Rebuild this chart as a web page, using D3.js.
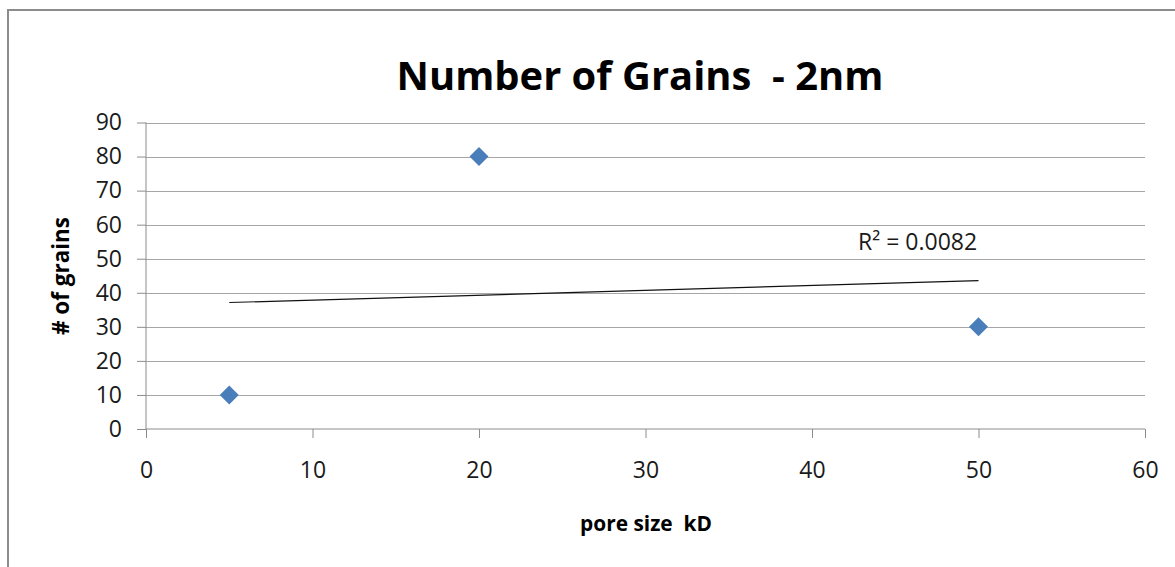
<!DOCTYPE html>
<html><head><meta charset="utf-8">
<script src="https://cdn.jsdelivr.net/npm/d3@7"></script>
<style>body{margin:0;background:#fff}svg{display:block}text{white-space:pre}</style>
</head><body>
<script>
const titleText = "Number of Grains  - 2nm";
const xLabel = "pore size  kD";
const yLabel = "# of grains";
const poreSize = [5, 20, 50];
const grains = [10, 80, 30];
const xTicks = [0, 10, 20, 30, 40, 50, 60];
const yTicks = [0, 10, 20, 30, 40, 50, 60, 70, 80, 90];
const r2Label = "R² = 0.0082";

const W = 1175, H = 567;
const svg = d3.select("body").append("svg").attr("width", W).attr("height", H);
const font = "'Open Sans', Lato, sans-serif";

// outer chart border
svg.append("rect").attr("x", 8).attr("y", 10).attr("width", W + 20).attr("height", H + 20)
  .attr("fill", "#fff").attr("stroke", "#8c8c8c").attr("stroke-width", 2);

const x = d3.scaleLinear().domain([0, 60]).range([146, 1145]);
const y = d3.scaleLinear().domain([0, 90]).range([429, 122.5]);

// gridlines
svg.append("g").selectAll("line").data(yTicks.filter(d => d > 0)).join("line")
  .attr("x1", x(0)).attr("x2", x(60)).attr("y1", d => Math.round(y(d)) + 0.5).attr("y2", d => Math.round(y(d)) + 0.5)
  .attr("stroke", "#a6a6a6").attr("stroke-width", 1);

// y axis
const yAxis = svg.append("g").attr("transform", `translate(${x(0)},0)`)
  .call(d3.axisLeft(y).tickValues(yTicks).tickSize(9).tickPadding(15).tickFormat(d3.format("d")));
// x axis
const xAxis = svg.append("g").attr("transform", `translate(0,${y(0)})`)
  .call(d3.axisBottom(x).tickValues(xTicks).tickSize(9).tickPadding(24).tickFormat(d3.format("d")));
[yAxis, xAxis].forEach(a => {
  a.select(".domain").attr("stroke", "#8c8c8c");
  a.selectAll(".tick line").attr("stroke", "#8c8c8c");
  a.selectAll("text").attr("font-family", font).attr("font-size", 23).attr("fill", "#1a1a1a");
});
yAxis.select(".domain").attr("d", `M0,${y(0)}V${y(90)}`);
xAxis.select(".domain").attr("d", `M${x(0)},0H${x(60)}`);

// trendline (least squares)
const mx = d3.mean(poreSize), my = d3.mean(grains);
const sxy = d3.sum(poreSize, (v, i) => (v - mx) * (grains[i] - my));
const sxx = d3.sum(poreSize, v => (v - mx) ** 2);
const slope = sxy / sxx, icpt = my - slope * mx;
const x0 = d3.min(poreSize), x1 = d3.max(poreSize);
svg.append("line").attr("x1", x(x0)).attr("y1", y(icpt + slope * x0))
  .attr("x2", x(x1)).attr("y2", y(icpt + slope * x1))
  .attr("stroke", "#111").attr("stroke-width", 1.2);

// markers
svg.append("g").selectAll("path").data(poreSize).join("path")
  .attr("transform", (d, i) => `translate(${x(d)},${y(grains[i])})`)
  .attr("d", "M0,-9.5L9.5,0L0,9.5L-9.5,0Z")
  .attr("fill", "#4a7ebb");

// R² label
svg.append("text").attr("x", 858).attr("y", 250).attr("font-family", font).attr("font-size", 23)
  .attr("fill", "#1a1a1a").text(r2Label);

// title, sized to the reference width
const title = svg.append("text").attr("x", 640).attr("y", 90).attr("text-anchor", "middle")
  .attr("font-family", font).attr("font-weight", "bold").attr("font-size", 40)
  .attr("fill", "#000").text(titleText);
const tw = title.node().getComputedTextLength();
title.attr("font-size", 40 * 487 / tw);

// axis titles
const xt = svg.append("text").attr("x", 646).attr("y", 531).attr("text-anchor", "middle")
  .attr("font-family", font).attr("font-weight", "bold").attr("font-size", 20)
  .attr("fill", "#000").text(xLabel);
xt.attr("font-size", 20 * 132 / xt.node().getComputedTextLength());
const yt = svg.append("text").attr("transform", "translate(69,276) rotate(-90)").attr("text-anchor", "middle")
  .attr("font-family", font).attr("font-weight", "bold").attr("font-size", 20)
  .attr("fill", "#000").text(yLabel);
yt.attr("font-size", 20 * 118 / yt.node().getComputedTextLength());
</script>
</body></html>
